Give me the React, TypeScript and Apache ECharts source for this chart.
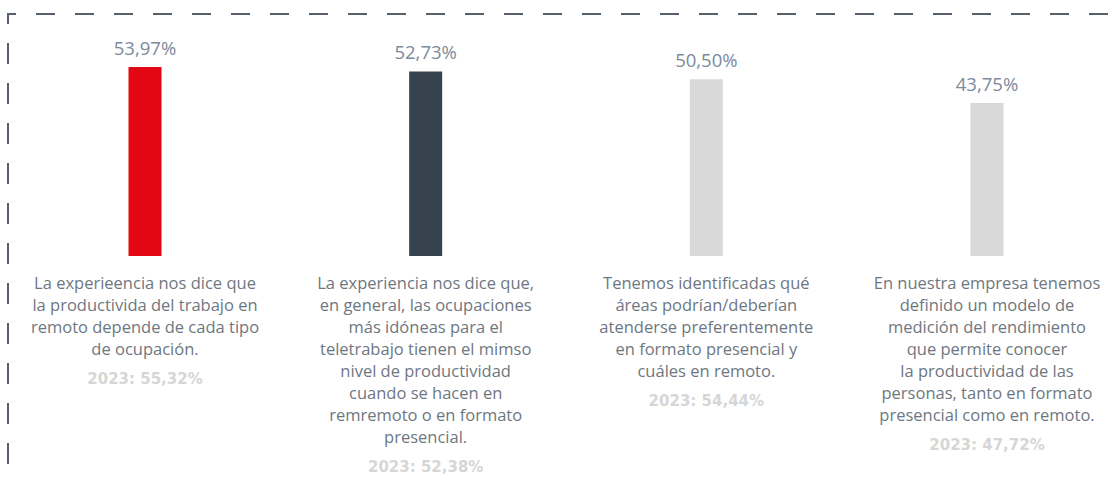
import React, { useEffect, useRef } from "react";
import * as echarts from "echarts";

const categoryLines: string[][] = [
  [
    "La experieencia nos dice que",
    "la productivida del trabajo en",
    "remoto depende de cada tipo",
    "de ocupación.",
  ],
  [
    "La experiencia nos dice que,",
    "en general, las ocupaciones",
    "más idóneas para el",
    "teletrabajo tienen el mimso",
    "nivel de productividad",
    "cuando se hacen en",
    "remremoto o en formato",
    "presencial.",
  ],
  [
    "Tenemos identificadas qué",
    "áreas podrían/deberían",
    "atenderse preferentemente",
    "en formato presencial y",
    "cuáles en remoto.",
  ],
  [
    "En nuestra empresa tenemos",
    "definido un modelo de",
    "medición del rendimiento",
    "que permite conocer",
    "la productividad de las",
    "personas, tanto en formato",
    "presencial como en remoto.",
  ],
];
const values2024: number[] = [53.97, 52.73, 50.5, 43.75];
const values2023: string[] = ["55,32%", "52,38%", "54,44%", "47,72%"];
const barColors: string[] = ["#e30613", "#36424e", "#d9d9d9", "#d9d9d9"];

export default function App() {
  const ref = useRef<HTMLDivElement>(null);
  useEffect(() => {
    document.body.style.margin = "0";
    if (!ref.current) return;
    const chart = echarts.init(ref.current, null, { renderer: "svg" });
    const cats = categoryLines.map((_, i) => String(i));
    chart.setOption({
      animation: false,
      backgroundColor: "#ffffff",
      grid: { left: 145, width: 842, top: 46, height: 210, containLabel: false },
      xAxis: {
        type: "category",
        data: cats,
        boundaryGap: false,
        axisLine: { show: false },
        axisTick: { show: false },
        axisLabel: {
          interval: 0,
          margin: 15,
          formatter: (_v: string, idx: number) =>
            categoryLines[idx].map((l) => `{t|${l}}`).join("\n") +
            `\n{y|2023: ${values2023[idx]}}`,
          rich: {
            t: {
              fontFamily: "Open Sans",
              fontSize: 16.5,
              color: "#6e7781",
              lineHeight: 22,
            },
            y: {
              fontFamily: "DejaVu Sans",
              fontWeight: "bold",
              fontSize: 15,
              color: "#d6d6d6",
              lineHeight: 40,
            },
          },
        },
      },
      yAxis: {
        type: "value",
        min: 0,
        max: 60,
        show: false,
        splitLine: { show: false },
      },
      series: [
        {
          type: "bar",
          barWidth: 33,
          data: values2024.map((v, i) => ({
            value: v,
            itemStyle: { color: barColors[i] },
          })),
          label: {
            show: true,
            position: "top",
            distance: 10,
            fontFamily: "Open Sans",
            fontSize: 18.5,
            color: "#7d8a9b",
            formatter: (p: any) =>
              Number(p.value).toFixed(2).replace(".", ",") + "%",
          },
        },
      ],
      graphic: [
        {
          type: "line",
          silent: true,
          shape: { x1: 8, y1: 14, x2: 1116, y2: 14 },
          style: {
            stroke: "#56616d",
            lineWidth: 2,
            lineDash: [19, 20],
            lineDashOffset: 11,
          },
        },
        {
          type: "line",
          silent: true,
          shape: { x1: 8, y1: 13, x2: 8, y2: 483 },
          style: {
            stroke: "#56616d",
            lineWidth: 2,
            lineDash: [21, 19],
            lineDashOffset: 10,
          },
        },
      ],
    });
    return () => chart.dispose();
  }, []);
  return <div ref={ref} style={{ width: 1116, height: 483 }} />;
}
